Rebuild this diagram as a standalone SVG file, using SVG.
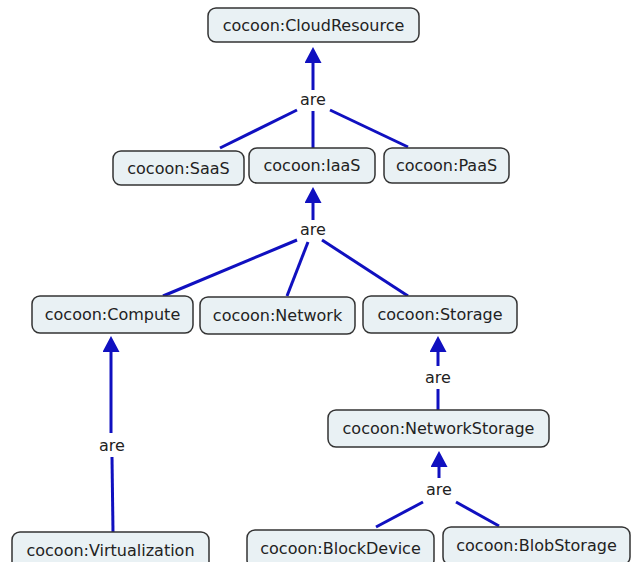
<svg xmlns="http://www.w3.org/2000/svg" width="631" height="562" viewBox="0 0 631 562">
<style>
.n rect{fill:#e9f1f4;stroke:#333;stroke-width:1.5}
.n text,.lbl{font-family:"DejaVu Sans",Verdana,sans-serif;font-size:16px;fill:#222;text-anchor:middle}
.c line{stroke:#1010c0;stroke-width:3;fill:none}
</style>
<defs>
<marker id="ah" viewBox="0 0 16 17" refX="10" refY="8.5" markerWidth="16" markerHeight="17" markerUnits="userSpaceOnUse" orient="auto">
<path d="M0,0 L16,8.5 L0,17 z" fill="#1010c0"/>
</marker>
</defs>
<rect width="631" height="562" fill="#fff"/>
<g id="connectors" class="c">
<line x1="313" y1="90" x2="313" y2="53" marker-end="url(#ah)"/>
<line x1="297" y1="110" x2="220" y2="148"/>
<line x1="313" y1="111" x2="313" y2="148"/>
<line x1="330" y1="110" x2="408" y2="147"/>
<line x1="313" y1="220" x2="313" y2="193" marker-end="url(#ah)"/>
<line x1="297" y1="240" x2="163" y2="296"/>
<line x1="308" y1="242" x2="287" y2="296"/>
<line x1="322" y1="240" x2="408" y2="296"/>
<line x1="111" y1="433" x2="111" y2="342" marker-end="url(#ah)"/>
<line x1="112" y1="457" x2="113" y2="532"/>
<line x1="438" y1="366" x2="438" y2="342" marker-end="url(#ah)"/>
<line x1="438" y1="389" x2="438" y2="410"/>
<line x1="439" y1="478" x2="439" y2="457" marker-end="url(#ah)"/>
<line x1="423" y1="502" x2="376" y2="527"/>
<line x1="456" y1="502" x2="499" y2="526"/>
</g>
<g id="labels">
<text class="lbl" x="313" y="105">are</text>
<text class="lbl" x="313" y="235">are</text>
<text class="lbl" x="112" y="451">are</text>
<text class="lbl" x="438" y="383">are</text>
<text class="lbl" x="439" y="495">are</text>
</g>
<g id="cloudresource" class="n"><rect x="208" y="8" width="211" height="34" rx="8"/><text x="313.5" y="31">cocoon:CloudResource</text></g>
<g id="saas" class="n"><rect x="113" y="151" width="131" height="34" rx="8"/><text x="178.5" y="174">cocoon:SaaS</text></g>
<g id="iaas" class="n"><rect x="249" y="148" width="126" height="35" rx="8"/><text x="312" y="171">cocoon:IaaS</text></g>
<g id="paas" class="n"><rect x="384" y="148" width="125" height="35" rx="8"/><text x="446.5" y="171">cocoon:PaaS</text></g>
<g id="compute" class="n"><rect x="32" y="296" width="161" height="37" rx="8"/><text x="112.5" y="320">cocoon:Compute</text></g>
<g id="network" class="n"><rect x="200" y="297" width="155" height="37" rx="8"/><text x="277.5" y="321">cocoon:Network</text></g>
<g id="storage" class="n"><rect x="363" y="296" width="154" height="37" rx="8"/><text x="440" y="320">cocoon:Storage</text></g>
<g id="networkstorage" class="n"><rect x="328" y="410" width="221" height="37" rx="8"/><text x="438.5" y="434">cocoon:NetworkStorage</text></g>
<g id="virtualization" class="n"><rect x="12" y="532" width="197" height="38" rx="8"/><text x="110.5" y="556">cocoon:Virtualization</text></g>
<g id="blockdevice" class="n"><rect x="247" y="530" width="187" height="38" rx="8"/><text x="340.5" y="554">cocoon:BlockDevice</text></g>
<g id="blobstorage" class="n"><rect x="443" y="527" width="187" height="38" rx="8"/><text x="536.5" y="551">cocoon:BlobStorage</text></g>
</svg>
